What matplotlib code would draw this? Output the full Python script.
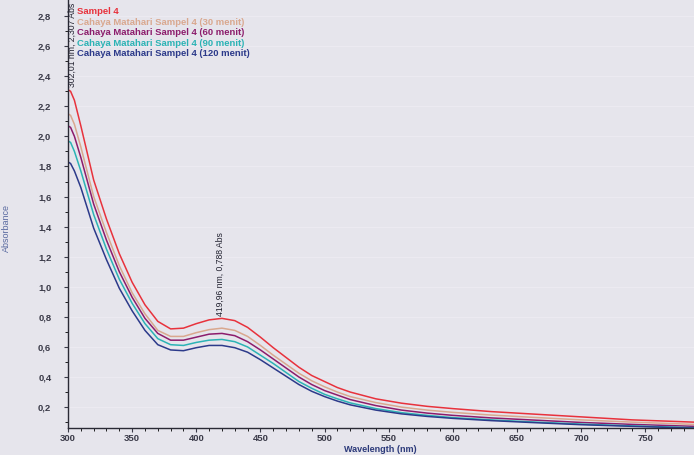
import numpy as np
import matplotlib.pyplot as plt

# panjang gelombang (nm) dan absorbansi yang dibaca dari gambar
wl = [300, 302, 305, 310, 320, 330, 340, 350, 360, 370, 380, 390, 400, 410,
      420, 430, 440, 450, 460, 470, 480, 490, 500, 510, 520, 540, 560, 580,
      600, 630, 660, 700, 740, 788]

abs_s4 = [2.31, 2.30, 2.24, 2.07, 1.71, 1.45, 1.22, 1.03, 0.88, 0.77, 0.72,
          0.725, 0.755, 0.78, 0.79, 0.775, 0.73, 0.665, 0.595, 0.53, 0.465,
          0.41, 0.37, 0.33, 0.30, 0.255, 0.226, 0.205, 0.19, 0.17, 0.155,
          0.135, 0.115, 0.10]
abs_30 = [2.15, 2.14, 2.08, 1.93, 1.60, 1.36, 1.14, 0.96, 0.82, 0.71, 0.67,
          0.67, 0.695, 0.715, 0.725, 0.71, 0.67, 0.61, 0.545, 0.485, 0.425,
          0.375, 0.335, 0.30, 0.27, 0.23, 0.20, 0.18, 0.165, 0.147, 0.133,
          0.115, 0.10, 0.085]
abs_60 = [2.07, 2.06, 2.00, 1.86, 1.55, 1.31, 1.10, 0.93, 0.79, 0.69, 0.645,
          0.645, 0.665, 0.685, 0.69, 0.675, 0.635, 0.58, 0.52, 0.46, 0.40,
          0.35, 0.31, 0.28, 0.25, 0.21, 0.18, 0.16, 0.145, 0.128, 0.115,
          0.098, 0.085, 0.072]
abs_90 = [1.97, 1.96, 1.90, 1.77, 1.48, 1.25, 1.05, 0.89, 0.755, 0.655, 0.615,
          0.61, 0.63, 0.645, 0.65, 0.635, 0.60, 0.545, 0.49, 0.43, 0.37,
          0.325, 0.285, 0.255, 0.228, 0.19, 0.163, 0.145, 0.13, 0.115, 0.102,
          0.087, 0.075, 0.063]
abs_120 = [1.83, 1.82, 1.77, 1.66, 1.39, 1.18, 0.99, 0.84, 0.71, 0.615, 0.58,
           0.575, 0.595, 0.61, 0.61, 0.595, 0.565, 0.515, 0.46, 0.405, 0.35,
           0.305, 0.27, 0.24, 0.215, 0.18, 0.155, 0.138, 0.125, 0.11, 0.098,
           0.083, 0.072, 0.06]

names = ["Sampel 4",
         "Cahaya Matahari Sampel 4 (30 menit)",
         "Cahaya Matahari Sampel 4 (60 menit)",
         "Cahaya Matahari Sampel 4 (90 menit)",
         "Cahaya Matahari Sampel 4 (120 menit)"]
colors = ["#e8323c", "#d9a88f", "#8c1c6c", "#2bb3b5", "#2c3a8a"]
series = [abs_s4, abs_30, abs_60, abs_90, abs_120]

peak_wl, peak_abs = 419.96, 0.788
start_wl, start_abs = 302.01, 2.307

plt.rcParams['font.family'] = ['Liberation Sans', 'DejaVu Sans']

fig = plt.figure(figsize=(6.94, 4.55), dpi=100)
fig.patch.set_facecolor("#e6e5ec")
ax = fig.add_axes([0.098, 0.059, 0.902, 0.941])
ax.set_facecolor("#e6e5ec")

for y, c in zip(series, colors):
    ax.plot(wl, y, color=c, lw=1.1)

ax.set_xlim(300, 788)
ax.set_ylim(0.06, 2.907)
ax.set_xticks(np.arange(300, 751, 50))
ax.set_xticks(np.arange(300, 790, 10), minor=True)
ax.set_yticks(np.arange(0.2, 2.81, 0.2))
ax.set_yticks(np.arange(0.1, 2.9, 0.1), minor=True)
ax.set_yticklabels([f"{v:.1f}".replace(".", ",") for v in np.arange(0.2, 2.81, 0.2)])
ax.tick_params(labelsize=6.8, colors="#3a3a48", length=3, width=0.8)
ax.tick_params(axis="x", pad=1)
ax.tick_params(axis="y", pad=9)
ax.tick_params(which="minor", length=2, width=0.6)
for lab in ax.get_xticklabels() + ax.get_yticklabels():
    lab.set_fontweight("bold")
ax.grid(True, axis="y", color="#eceaf1", lw=0.8)
ax.set_axisbelow(True)
for s in ["top", "right"]:
    ax.spines[s].set_visible(False)
for s in ["left", "bottom"]:
    ax.spines[s].set_color("#2a2a35")
    ax.spines[s].set_linewidth(1.0)

# legenda teks berwarna di pojok kiri atas
for i, (n, c) in enumerate(zip(names, colors)):
    ax.text(307, 2.83 - i * 0.07, n, color=c, fontsize=6.8, fontweight="bold",
            va="center", ha="left")

# anotasi puncak
ax.text(peak_wl - 1.5, peak_abs + 0.02, f"{peak_wl:.2f} nm, {peak_abs:.3f} Abs".replace(".", ","),
        rotation=90, fontsize=6.2, ha="center", va="bottom", color="#222230")
ax.text(start_wl + 1, start_abs + 0.02, f"{start_wl:.2f} nm, {start_abs:.3f} Abs".replace(".", ","),
        rotation=90, fontsize=6.2, ha="center", va="bottom", color="#222230")

fig.text(0.548, 0.011, "Wavelength (nm)", fontsize=6.5, fontweight="bold",
         color="#2c3a7a", ha="center", va="center")
fig.text(0.003, 0.5, "Absorbance", rotation=90, fontsize=6.5, color="#5a6aa0",
         ha="left", va="center")

fig.savefig("out.png", dpi=100, facecolor=fig.get_facecolor())
